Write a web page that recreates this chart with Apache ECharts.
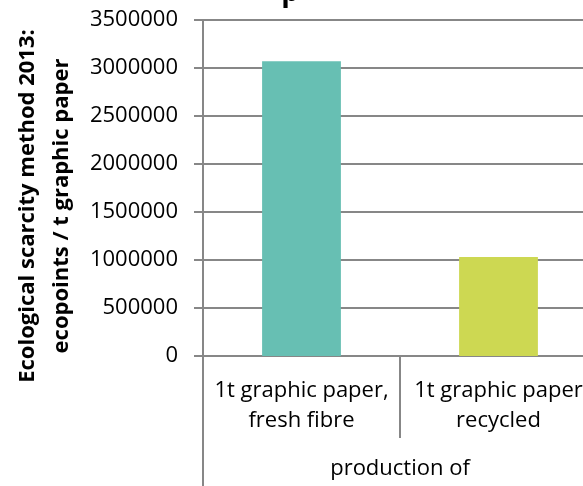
<!DOCTYPE html>
<html>
<head>
<meta charset="utf-8">
<script src="https://cdn.jsdelivr.net/npm/echarts@6/dist/echarts.min.js"></script>
<style>
  html, body { margin: 0; padding: 0; background: #fff; }
  #chart { width: 583px; height: 486px; }
</style>
</head>
<body>
<div id="chart"></div>
<script>
// Ecopoints per tonne of graphic paper, by production route
const categories = ['1t graphic paper,\nfresh fibre', '1t graphic paper\nrecycled'];
const ecopoints = [3070000, 1030000];
const barColors = ['#67BFB3', '#CDD852'];
const yTicks = { min: 0, max: 3500000, interval: 500000 };
const groupLabel = 'production of';
const yTitle = 'Ecological scarcity method 2013:\necopoints / t graphic paper';

const FONT = '"Open Sans", sans-serif';
const AXIS = '#878787';

const chart = echarts.init(document.getElementById('chart'), null, { renderer: 'canvas' });

chart.setOption({
  animation: false,
  backgroundColor: '#ffffff',
  grid: {
    left: 203, top: 20, width: 394, height: 336,
    containLabel: false, outerBoundsMode: 'none'
  },
  xAxis: {
    type: 'category',
    data: categories,
    boundaryGap: true,
    axisLine: { show: true, lineStyle: { color: AXIS, width: 2 } },
    axisTick: { show: true, length: 82, lineStyle: { color: AXIS, width: 2 } },
    axisLabel: {
      color: '#000', fontFamily: FONT, fontSize: 22, lineHeight: 30,
      margin: 20, interval: 0
    },
    name: groupLabel,
    nameLocation: 'middle',
    nameGap: 102,
    nameTextStyle: { color: '#000', fontFamily: FONT, fontSize: 22 }
  },
  yAxis: {
    type: 'value',
    min: yTicks.min, max: yTicks.max, interval: yTicks.interval,
    axisLine: { show: true, lineStyle: { color: AXIS, width: 2 } },
    axisTick: { show: true, length: 9, lineStyle: { color: AXIS, width: 2 } },
    splitLine: { show: true, lineStyle: { color: AXIS, width: 2 } },
    axisLabel: {
      color: '#000', fontFamily: FONT, fontSize: 22, margin: 25,
      formatter: v => String(v)
    }
  },
  series: [{
    type: 'bar',
    barWidth: '40%',
    data: ecopoints.map((v, i) => ({ value: v, itemStyle: { color: barColors[i] } }))
  }],
  graphic: [
    {
      // left axis runs on down through the category label band
      type: 'line', z: 10,
      shape: { x1: 203, y1: 356, x2: 203, y2: 486 },
      style: { stroke: AXIS, lineWidth: 2 }
    },
    {
      type: 'text', z: 10,
      x: 45, y: 206, rotation: Math.PI / 2,
      style: {
        text: yTitle, fill: '#000', fontFamily: FONT, fontWeight: 'bold',
        fontSize: 22, lineHeight: 34, align: 'center', verticalAlign: 'middle'
      }
    },
    {
      // chart heading sits above the visible area; only a descender shows
      type: 'text', z: 10,
      x: 290, y: 7,
      style: {
        text: 'p', fill: '#000', fontFamily: FONT, fontWeight: 'bold',
        fontSize: 28, align: 'center', verticalAlign: 'bottom'
      }
    }
  ]
});
</script>
</body>
</html>
